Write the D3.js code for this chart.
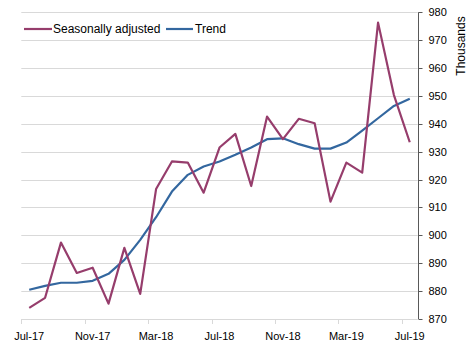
<!DOCTYPE html>
<html><head><meta charset="utf-8">
<script src="https://cdn.jsdelivr.net/npm/d3@7"></script>
<style>body{margin:0;background:#fff;}svg{display:block;font-family:"Liberation Sans",Arial,sans-serif;}</style>
</head><body><svg id="c" width="469" height="348"></svg>
<script>
const months = ["Jul-17","Aug-17","Sep-17","Oct-17","Nov-17","Dec-17","Jan-18","Feb-18","Mar-18","Apr-18","May-18","Jun-18","Jul-18","Aug-18","Sep-18","Oct-18","Nov-18","Dec-18","Jan-19","Feb-19","Mar-19","Apr-19","May-19","Jun-19","Jul-19"];
const seasonallyAdjusted = [874.0,877.6,897.4,886.5,888.4,875.5,895.5,879.0,916.6,926.5,926.1,915.3,931.5,936.4,917.7,942.6,934.5,941.8,940.2,912.1,926.1,922.5,976.3,950.3,933.4];
const trend = [880.5,881.9,883.0,883.0,883.7,886.2,891.2,898.4,906.5,915.7,921.7,924.7,926.5,928.9,931.5,934.5,934.8,932.7,931.1,931.1,933.3,937.6,942.0,946.4,949.0];
const yTicks = [870,880,890,900,910,920,930,940,950,960,970,980];
const xTickLabels = ["Jul-17","Nov-17","Mar-18","Jul-18","Nov-18","Mar-19","Jul-19"];

const svg = d3.select("#c");
const L = 21.3, R = 417.7, T = 12.3, B = 319;
const x = d3.scaleBand().domain(months).range([L, R]);
const y = d3.scaleLinear().domain([870, 980]).range([B, T]);

// gridlines
svg.append("g").selectAll("line").data(yTicks).join("line")
  .attr("x1", L).attr("x2", R)
  .attr("y1", d => Math.round(y(d)) + 0.5).attr("y2", d => Math.round(y(d)) + 0.5)
  .attr("stroke", "#d9d9d9").attr("stroke-width", 1);

// x ticks at band left edges
svg.append("g").selectAll("line").data(xTickLabels).join("line")
  .attr("x1", d => Math.round(x(d)) + 0.5).attr("x2", d => Math.round(x(d)) + 0.5)
  .attr("y1", Math.round(B)).attr("y2", Math.round(B) + 5)
  .attr("stroke", "#d9d9d9");
svg.append("g").selectAll("text").data(xTickLabels).join("text")
  .attr("x", d => x(d) + x.bandwidth() / 2).attr("y", 340)
  .attr("text-anchor", "middle").attr("font-size", 11).attr("fill", "#000")
  .text(d => d);

// right axis
const ax = svg.append("g").attr("transform", `translate(${Math.round(R) + 0.5},0)`);
ax.append("line").attr("y1", T).attr("y2", B).attr("stroke", "#595959");
ax.selectAll("line.t").data(yTicks).join("line").attr("class", "t")
  .attr("x1", 0).attr("x2", 4)
  .attr("y1", d => Math.round(y(d)) + 0.5).attr("y2", d => Math.round(y(d)) + 0.5)
  .attr("stroke", "#595959");
ax.selectAll("text").data(yTicks).join("text")
  .attr("x", 10).attr("y", d => y(d) + 4)
  .attr("font-size", 11).attr("fill", "#000").text(d => d);

svg.append("text").attr("transform", "translate(465,46) rotate(-90)")
  .attr("text-anchor", "middle").attr("font-size", 12).attr("fill", "#000").text("Thousands");

// lines
const line = d3.line().x((d, i) => x(months[i]) + x.bandwidth() / 2).y(d => y(d));
svg.append("path").datum(trend).attr("d", line).attr("fill", "none")
  .attr("stroke", "#33679f").attr("stroke-width", 2.2).attr("stroke-linejoin", "round");
svg.append("path").datum(seasonallyAdjusted).attr("d", line).attr("fill", "none")
  .attr("stroke", "#963d6c").attr("stroke-width", 2.2).attr("stroke-linejoin", "round");

// legend
const lg = svg.append("g");
lg.append("line").attr("x1", 24).attr("x2", 52).attr("y1", 29).attr("y2", 29).attr("stroke", "#963d6c").attr("stroke-width", 2.2);
lg.append("text").attr("x", 53).attr("y", 33).attr("font-size", 12).attr("fill", "#000").text("Seasonally adjusted");
lg.append("line").attr("x1", 166).attr("x2", 193).attr("y1", 29).attr("y2", 29).attr("stroke", "#33679f").attr("stroke-width", 2.2);
lg.append("text").attr("x", 195).attr("y", 33).attr("font-size", 12).attr("fill", "#000").text("Trend");
</script></body></html>
